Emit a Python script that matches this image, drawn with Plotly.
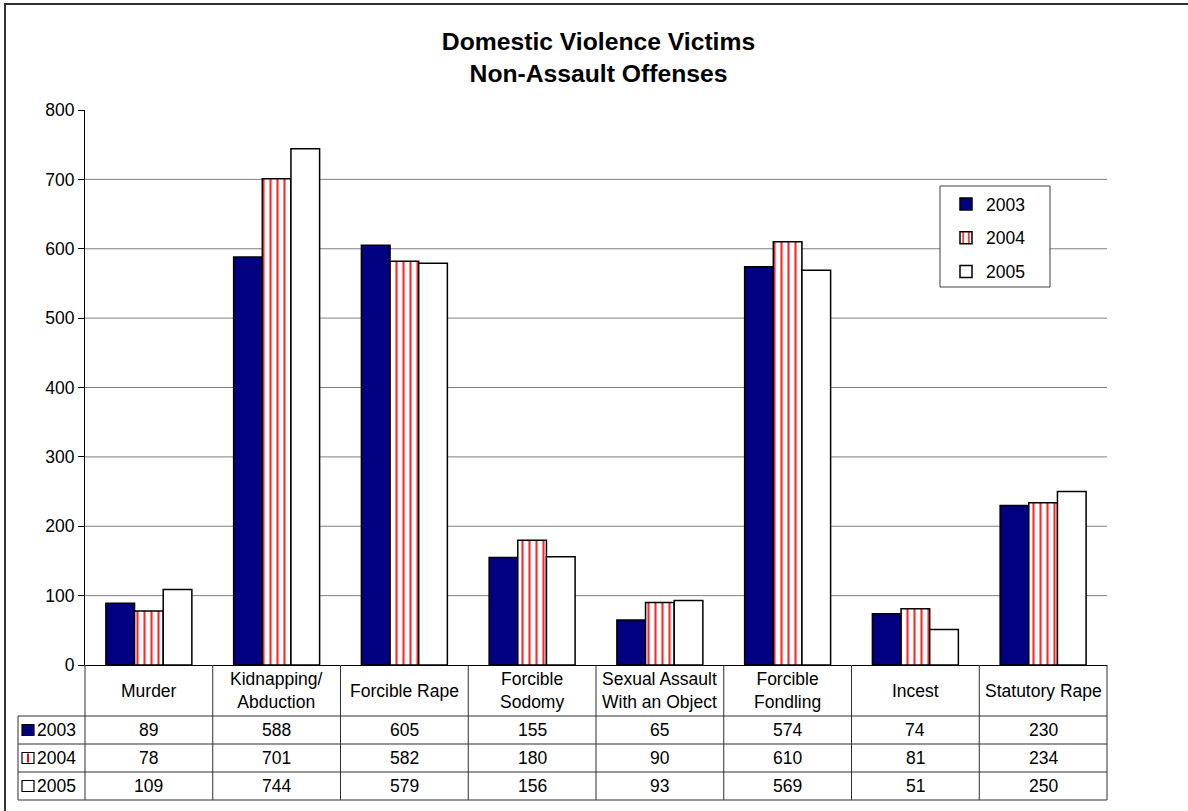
import plotly.graph_objects as go

# ---------------- data ----------------
categories = ["Murder", "Kidnapping/Abduction", "Forcible Rape", "Forcible Sodomy",
              "Sexual Assault With an Object", "Forcible Fondling", "Incest", "Statutory Rape"]
header_labels = ["Murder", "Kidnapping/<br>Abduction", "Forcible Rape", "Forcible<br>Sodomy",
                 "Sexual Assault<br>With an Object", "Forcible<br>Fondling", "Incest", "Statutory Rape"]
years = ["2003", "2004", "2005"]
v2003 = [89, 588, 605, 155, 65, 574, 74, 230]
v2004 = [78, 701, 582, 180, 90, 610, 81, 234]
v2005 = [109, 744, 579, 156, 93, 569, 51, 250]
y_ticks = [0, 100, 200, 300, 400, 500, 600, 700, 800]

series = [v2003, v2004, v2005]

# ---------------- layout geometry (pixels) ----------------
W, H = 1188, 811
L, R, T, B = 85, 1107, 110, 665
FONT = "Liberation Sans, Arial, sans-serif"
FS = 17.5


def px(x):
    return (x - L) / (R - L)


def py(y):
    return (B - y) / (B - T)


navy = "#000080"
red = "#ff0000"
line_col = "#303030"

fig = go.Figure()

styles = [
    dict(color=navy, line=dict(color="black", width=1.5)),
    dict(color="white", line=dict(color="black", width=1.5),
         pattern=dict(shape="|", fgcolor=red, bgcolor="white", size=7, solidity=0.3, fgopacity=0.85)),
    dict(color="white", line=dict(color="black", width=1.5)),
]

for yr, vals, st in zip(years, series, styles):
    fig.add_trace(go.Bar(x=categories, y=vals, name=yr, marker=st,
                         legendgroup=yr, showlegend=True))

shapes = []
# gridlines (below bars)
for t in y_ticks[1:-1]:
    shapes.append(dict(type="line", xref="paper", yref="y", x0=0, x1=1, y0=t, y1=t,
                       line=dict(color="#808080", width=1), layer="below"))

# table lines
row_y = [716, 744, 772, 800]
label_left = 18
for i, ry in enumerate(row_y):
    shapes.append(dict(type="line", xref="paper", yref="paper",
                       x0=px(label_left), x1=1, y0=py(ry), y1=py(ry),
                       line=dict(color=line_col, width=1)))
shapes.append(dict(type="line", xref="paper", yref="paper",
                   x0=px(label_left), x1=px(label_left), y0=py(716), y1=py(800),
                   line=dict(color=line_col, width=1)))
n = len(categories)
for i in range(n + 1):
    shapes.append(dict(type="line", xref="paper", yref="paper",
                       x0=i / n, x1=i / n, y0=py(B), y1=py(800),
                       line=dict(color=line_col, width=1)))

# legend box
shapes.append(dict(type="rect", xref="paper", yref="paper",
                   x0=px(940), x1=px(1050), y0=py(186), y1=py(287),
                   fillcolor="white", line=dict(color="#404040", width=1), layer="above"))

# outer border
shapes.append(dict(type="rect", xref="paper", yref="paper",
                   x0=px(5), x1=px(1400), y0=py(4), y1=py(1000),
                   fillcolor="rgba(0,0,0,0)", line=dict(color="#333333", width=2)))

annotations = []
# header labels
for cat, lab in zip(categories, header_labels):
    annotations.append(dict(x=cat, xref="x", y=py(690.5), yref="paper", text=lab,
                            showarrow=False, xanchor="center", yanchor="middle",
                            font=dict(family=FONT, size=FS, color="black")))
# values
row_centers = [730, 758, 786]
for yr, vals, rc in zip(years, series, row_centers):
    for cat, v in zip(categories, vals):
        annotations.append(dict(x=cat, xref="x", y=py(rc), yref="paper", text=str(v),
                                showarrow=False, xanchor="center", yanchor="middle",
                                font=dict(family=FONT, size=FS, color="black")))
    annotations.append(dict(x=px(35), xref="paper", y=py(rc), yref="paper", text=yr,
                            showarrow=False, xanchor="left", yanchor="middle",
                            font=dict(family=FONT, size=FS, color="black")))

# row label markers
for i, rc in enumerate(row_centers):
    fill = navy if i == 0 else "white"
    shapes.append(dict(type="rect", xref="paper", yref="paper",
                       x0=px(22), x1=px(34), y0=py(rc - 5.5), y1=py(rc + 5.5),
                       fillcolor=fill, line=dict(color="black", width=1.2)))
    if i == 1:
        shapes.append(dict(type="line", xref="paper", yref="paper",
                           x0=px(28), x1=px(28), y0=py(rc - 4.5), y1=py(rc + 4.5),
                           line=dict(color=red, width=2)))

fig.update_layout(
    width=W, height=H,
    margin=dict(l=L, r=W - R, t=T, b=H - B, pad=0),
    paper_bgcolor="white", plot_bgcolor="white",
    font=dict(family=FONT, size=FS, color="black"),
    title=dict(text="<b>Domestic Violence Victims<br>Non-Assault Offenses</b>",
               x=px(598.5), xref="paper", xanchor="center",
               y=1 - 50 / H, yref="container", yanchor="middle",
               font=dict(family=FONT, size=24.7, color="black")),
    barmode="group", bargap=0.327, bargroupgap=0,
    xaxis=dict(range=[-0.5, n - 0.5], showticklabels=False, ticks="", showgrid=False,
               showline=True, linecolor="black", linewidth=1, zeroline=False, fixedrange=True),
    yaxis=dict(range=[0, 800], tickvals=y_ticks, showgrid=False, zeroline=False,
               ticks="outside", ticklen=6, tickcolor="black", tickwidth=1,
               showline=True, linecolor="black", linewidth=1,
               tickfont=dict(family=FONT, size=FS, color="black")),
    legend=dict(x=px(946), y=py(186), xanchor="left", yanchor="top",
                bgcolor="rgba(0,0,0,0)", borderwidth=0,
                traceorder="grouped", tracegroupgap=8,
                font=dict(family=FONT, size=FS, color="black")),
    shapes=shapes,
    annotations=annotations,
)

fig.write_html("out.html", config={"displayModeBar": False},
               post_script="document.body.style.margin='0';")
